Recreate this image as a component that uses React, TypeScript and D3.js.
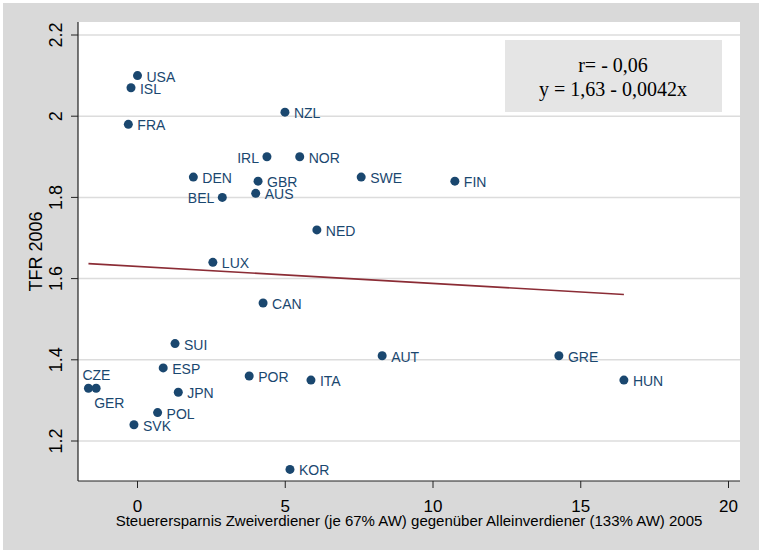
import React from "react";
import * as d3 from "d3";

const countries = ["USA","ISL","FRA","NZL","IRL","NOR","DEN","GBR","AUS","BEL","SWE","FIN","NED","LUX","CAN","SUI","ESP","CZE","GER","JPN","POL","SVK","POR","ITA","AUT","GRE","HUN","KOR"];
const savings = [0.0,-0.22,-0.31,4.99,4.38,5.49,1.89,4.08,4.0,2.87,7.57,10.74,6.07,2.55,4.25,1.27,0.87,-1.66,-1.40,1.38,0.68,-0.12,3.78,5.87,8.28,14.26,16.46,5.16];
const tfr = [2.10,2.07,1.98,2.01,1.90,1.90,1.85,1.84,1.81,1.80,1.85,1.84,1.72,1.64,1.54,1.44,1.38,1.33,1.33,1.32,1.27,1.24,1.36,1.35,1.41,1.41,1.35,1.13];
const labelSide: Record<string, string> = { IRL: "left", BEL: "left", CZE: "top", GER: "bottom" };

const xTicks = [0, 5, 10, 15, 20];
const yTicks = [1.2, 1.4, 1.6, 1.8, 2.0, 2.2];
const yTickLabels = ["1.2", "1.4", "1.6", "1.8", "2", "2.2"];
const fitIntercept = 1.63;
const fitSlope = -0.0042;
const statsLines = ["r= - 0,06", "y = 1,63 - 0,0042x"];
const xTitle = "Steuerersparnis Zweiverdiener (je 67% AW) gegenüber Alleinverdiener (133% AW) 2005";
const yTitle = "TFR 2006";

export default function App() {
  const W = 759, H = 550;
  const left = 78, right = 740, top = 22, bottom = 481;
  const x = d3.scaleLinear().domain([0, 20]).range([137.5, 728.5]);
  const y = d3.scaleLinear().domain([1.2, 2.2]).range([441, 35]);
  const navy = "#1a476f";
  const sans = "Liberation Sans, Arial, sans-serif";
  const xmin = d3.min(savings) as number;
  const xmax = d3.max(savings) as number;
  const line = d3.line<number>().x((d) => x(d)).y((d) => y(fitIntercept + fitSlope * d));

  return (
    <svg width={W} height={H} style={{ position: "absolute", left: 0, top: 0 }} fontFamily={sans}>
      <rect x={0} y={0} width={W} height={H} fill="#ffffff" />
      <rect x={3} y={3} width={W - 3} height={H - 3} fill="#d9d9d9" />
      <rect x={left} y={top} width={right - left} height={bottom - top} fill="#ffffff" />
      {yTicks.map((t, i) => (
        <g key={"y" + i}>
          <line x1={left} x2={right} y1={y(t)} y2={y(t)} stroke="#dcdcdc" strokeWidth={1.5} />
          <line x1={left - 7} x2={left} y1={y(t)} y2={y(t)} stroke="#222" strokeWidth={1} />
          <text transform={`translate(62,${y(t)}) rotate(-90)`} textAnchor="middle" fontSize={18} fill="#000">
            {yTickLabels[i]}
          </text>
        </g>
      ))}
      {xTicks.map((t, i) => (
        <g key={"x" + i}>
          <line x1={x(t)} x2={x(t)} y1={bottom} y2={bottom + 7} stroke="#222" strokeWidth={1} />
          <text x={x(t)} y={511.5} textAnchor="middle" fontSize={17} fill="#000">{t}</text>
        </g>
      ))}
      <line x1={left} x2={left} y1={top} y2={bottom} stroke="#222" strokeWidth={1.2} />
      <line x1={left} x2={right} y1={bottom} y2={bottom} stroke="#222" strokeWidth={1.2} />
      <rect x={505} y={40} width={217} height={72} fill="#e5e5e5" />
      {statsLines.map((s, i) => (
        <text key={"s" + i} x={613} y={71.5 + i * 24.5} textAnchor="middle" fontSize={20}
          fontFamily="Liberation Serif, Times New Roman, serif" fill="#000">{s}</text>
      ))}
      <path d={line([xmin, xmax]) || ""} stroke="#8b2c35" strokeWidth={1.6} fill="none" />
      {countries.map((c, i) => {
        const px = x(savings[i]);
        const py = y(tfr[i]);
        const side = labelSide[c] || "right";
        let tx = px + 9, ty = py + 6, anchor = "start";
        if (side === "left") { tx = px - 8; anchor = "end"; }
        if (side === "top") { tx = px - 6; ty = py - 8; }
        if (side === "bottom") { tx = px - 2; ty = py + 20; }
        return (
          <g key={c}>
            <circle cx={px} cy={py} r={4.5} fill={navy} />
            <text x={tx} y={ty} textAnchor={anchor} fontSize={14} fill={navy}>{c}</text>
          </g>
        );
      })}
      <text x={409} y={525.5} textAnchor="middle" fontSize={15} fill="#000">{xTitle}</text>
      <text transform={`translate(42,${(top + bottom) / 2}) rotate(-90)`} textAnchor="middle" fontSize={18} fill="#000">{yTitle}</text>
    </svg>
  );
}
